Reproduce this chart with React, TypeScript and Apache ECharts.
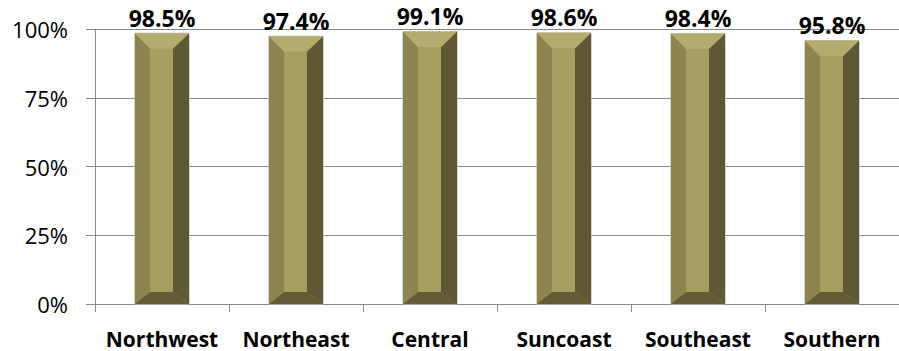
import React, { useEffect, useRef } from "react";
import * as echarts from "echarts";

// Regions on the category axis
const regions = ["Northwest", "Northeast", "Central", "Suncoast", "Southeast", "Southern"];
// Percentage per region
const rates = [98.5, 97.4, 99.1, 98.6, 98.4, 95.8];
// Value axis ticks
const yMin = 0;
const yMax = 100;
const yStep = 25;

const FONT = "'Open Sans', 'DejaVu Sans', sans-serif";

// Facet colours of the bevelled column
const FACE = "#a79e62";
const TOP = "#b4ab6f";
const LEFT = "#8d844f";
const RIGHT = "#5f5835";
const BOTTOM = "#645c36";

export default function App() {
  const ref = useRef<HTMLDivElement>(null);

  useEffect(() => {
    document.body.style.margin = "0";
    if (!ref.current) return;
    const chart = echarts.init(ref.current, undefined, { renderer: "svg" });

    const renderItem = (params: any, api: any) => {
      const idx = api.value(0);
      const v = api.value(1);
      const top = api.coord([idx, v]);
      const base = api.coord([idx, 0]);
      const bandW = api.size([1, 0])[0];
      const bw = bandW * 0.404;
      const x0 = top[0] - bw / 2;
      const x1 = top[0] + bw / 2;
      const y0 = top[1];
      const y1 = base[1];
      const sl = bw * 0.28; // left bevel
      const sr = bw * 0.3; // right bevel
      const st = bw * 0.29; // top bevel
      const sb = bw * 0.22; // bottom bevel
      const ix0 = x0 + sl;
      const ix1 = x1 - sr;
      const iy0 = y0 + st;
      const iy1 = y1 - sb;
      return {
        type: "group",
        children: [
          { type: "polygon", shape: { points: [[x0, y0], [x1, y0], [x1, y1], [x0, y1]] }, style: { fill: FACE, stroke: "#c8c8c8", lineWidth: 1 } },
          { type: "polygon", shape: { points: [[x0, y0], [ix0, iy0], [ix0, iy1], [x0, y1]] }, style: { fill: LEFT } },
          { type: "polygon", shape: { points: [[x1, y0], [ix1, iy0], [ix1, iy1], [x1, y1]] }, style: { fill: RIGHT } },
          { type: "polygon", shape: { points: [[x0, y1], [ix0, iy1], [ix1, iy1], [x1, y1]] }, style: { fill: BOTTOM } },
          { type: "polygon", shape: { points: [[x0, y0], [x1, y0], [ix1, iy0], [ix0, iy0]] }, style: { fill: TOP } },
          { type: "polygon", shape: { points: [[ix0, iy0], [ix1, iy0], [ix1, iy1], [ix0, iy1]] }, style: { fill: FACE } },
          {
            type: "text",
            x: top[0],
            y: y0 - 4,
            style: {
              text: v.toFixed(1) + "%",
              textAlign: "center",
              textVerticalAlign: "bottom",
              font: `bold 23px ${FONT}`,
              fill: "#000",
            },
          },
        ],
      };
    };

    chart.setOption({
      animation: false,
      backgroundColor: "#ffffff",
      grid: { left: 95, top: 29, width: 816, height: 275, containLabel: false },
      xAxis: {
        type: "category",
        data: regions,
        boundaryGap: true,
        axisLine: { show: true, lineStyle: { color: "#888888", width: 1 } },
        axisTick: { show: true, length: 8, alignWithLabel: false, lineStyle: { color: "#888888" } },
        axisLabel: { color: "#000", fontFamily: FONT, fontWeight: "bold", fontSize: 21, margin: 24, interval: 0 },
      },
      yAxis: {
        type: "value",
        min: yMin,
        max: yMax,
        interval: yStep,
        axisLine: { show: true, lineStyle: { color: "#888888", width: 1 } },
        axisTick: { show: true, length: 9, lineStyle: { color: "#888888" } },
        splitLine: { show: true, lineStyle: { color: "#888888", width: 1 } },
        axisLabel: { color: "#000", fontFamily: FONT, fontSize: 22, margin: 27, formatter: "{value}%" },
      },
      series: [
        {
          type: "custom",
          data: rates.map((r, i) => [i, r]),
          encode: { x: 0, y: 1 },
          renderItem,
          clip: false,
        },
      ],
    });

    return () => chart.dispose();
  }, []);

  return <div ref={ref} style={{ width: 899, height: 351 }} />;
}
